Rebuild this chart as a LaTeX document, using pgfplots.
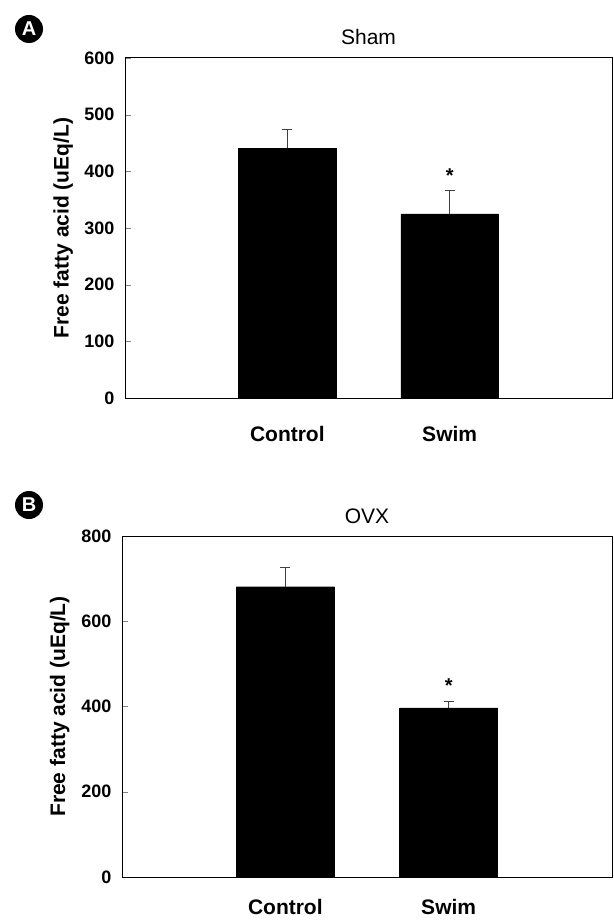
\documentclass[border=0pt]{standalone}
\usepackage{fontspec}
\setmainfont{Liberation Sans}
\usepackage{pgfplots}
\pgfplotsset{compat=1.18}

\pgfplotsset{
  ffa/.style={
    scale only axis,
    anchor=south west,
    xmin=0, xmax=3,
    ymin=0,
    xtick={1,2},
    xticklabels={Control,Swim},
    xtick style={draw=none},
    ytick pos=left,
    tick align=inside,
    major tick length=6pt,
    axis line style={line width=1pt},
    /pgf/number format/assume math mode=true,
    yticklabel style={font=\bfseries\fontsize{18}{18}\selectfont, xshift=-7pt},
    xticklabel style={font=\bfseries\fontsize{21}{21}\selectfont, anchor=base},
    ylabel={Free fatty acid (uEq/L)},
    ylabel style={font=\bfseries\fontsize{21}{21}\selectfont, at={(axis description cs:-0.127,0.5)}, anchor=center},
    title style={font=\fontsize{21}{21}\selectfont, anchor=base, yshift=7pt},
    ybar, bar width=0.6, bar shift=0pt,
  },
  bars/.style={fill=black, draw=black,
    error bars/.cd, y dir=plus, y explicit,
    error bar style={line width=1pt, color=black!75},
    error mark options={rotate=90, mark size=5pt, line width=1pt, color=black!75}},
  star/.style={draw=none, fill=none, mark=none, forget plot,
    nodes near coords={\textbf{*}},
    every node near coord/.style={font=\bfseries\fontsize{20}{20}\selectfont, anchor=center}},
}

\begin{document}
\begin{tikzpicture}[x=1pt,y=1pt]
\useasboundingbox (0,0) rectangle (613,-920);

% panel A
\node[circle, fill=black, text=white, inner sep=0pt, minimum size=28pt,
      font=\bfseries\fontsize{20}{20}\selectfont] at (29,-29) {A};
\begin{axis}[ffa, at={(125pt,-398pt)}, width=487pt, height=340pt,
  ymax=600, ytick={0,100,...,600}, title={Sham},
  xticklabel style={yshift=-37pt}]
\addplot[bars] coordinates {(1,441) +- (0,33) (2,325) +- (0,42)};
\addplot[star] coordinates {(2,392)};
\end{axis}

% panel B
\node[circle, fill=black, text=white, inner sep=0pt, minimum size=28pt,
      font=\bfseries\fontsize{20}{20}\selectfont] at (29,-505) {B};
\begin{axis}[ffa, at={(122pt,-877pt)}, width=490pt, height=341pt,
  ymax=800, ytick={0,200,...,800}, title={OVX},
  xticklabel style={yshift=-31pt}]
\addplot[bars] coordinates {(1,681) +- (0,44) (2,397) +- (0,14)};
\addplot[star] coordinates {(2,450)};
\end{axis}
\end{tikzpicture}
\end{document}
